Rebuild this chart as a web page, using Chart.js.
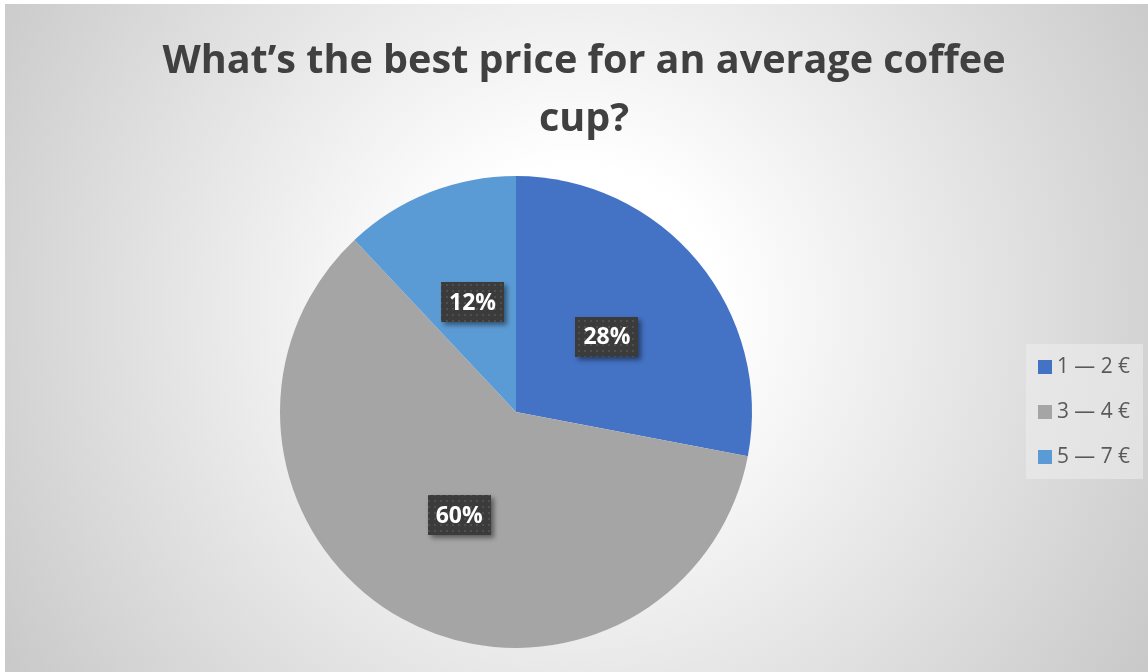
<!DOCTYPE html>
<html>
<head>
<meta charset="utf-8">
<title>Coffee price survey</title>
<script src="https://cdn.jsdelivr.net/npm/chart.js@4/dist/chart.umd.min.js"></script>
<style>
    html, body { margin: 0; padding: 0; background: #ffffff; overflow: hidden; }
    #wrap { position: relative; width: 1148px; height: 672px; }
</style>
</head>
<body>
<div id="wrap"><canvas id="priceChart" width="1148" height="672"></canvas></div>
<script>
// Survey answers
const titleLines = ['What\u2019s the best price for an average coffee', 'cup?'];
const priceRanges = ['1 \u2014 2 \u20ac', '3 \u2014 4 \u20ac', '5 \u2014 7 \u20ac'];
const sharePercent = [28, 60, 12];
const sliceColors = ['#4472C4', '#A5A5A5', '#5B9BD5'];

const FONT = '"Open Sans", "Liberation Sans", sans-serif';

// Pick a font size so that text spans the given width
function fitFont(ctx, weight, text, width) {
    ctx.font = weight + ' 40px ' + FONT;
    const size = 40 * width / ctx.measureText(text).width;
    return weight + ' ' + size.toFixed(2) + 'px ' + FONT;
}

// Light radial backdrop behind the whole chart
const backdrop = {
    id: 'backdrop',
    beforeDraw(chart) {
        const ctx = chart.ctx;
        ctx.save();
        ctx.fillStyle = '#ffffff';
        ctx.fillRect(0, 0, chart.width, chart.height);
        const g = ctx.createRadialGradient(574, 310, 0, 574, 310, 720);
        g.addColorStop(0, '#ffffff');
        g.addColorStop(0.2, '#ffffff');
        g.addColorStop(1, '#c4c4c4');
        ctx.fillStyle = g;
        ctx.fillRect(5, 4, chart.width - 5, chart.height - 4);
        ctx.restore();
    }
};

// Two-line bold heading, sized to the first line's width
const heading = {
    id: 'heading',
    afterDraw(chart) {
        const ctx = chart.ctx;
        ctx.save();
        ctx.font = fitFont(ctx, 'bold', titleLines[0], 843);
        ctx.fillStyle = '#404040';
        ctx.textAlign = 'center';
        ctx.textBaseline = 'alphabetic';
        ctx.fillText(titleLines[0], 584, 73);
        ctx.fillText(titleLines[1], 584, 131);
        ctx.restore();
    }
};

// Dotted dark tile used behind the percentage labels
function makeDotPattern(ctx) {
    const tile = document.createElement('canvas');
    tile.width = 6;
    tile.height = 6;
    const t = tile.getContext('2d');
    t.fillStyle = '#3b3b3b';
    t.fillRect(0, 0, 6, 6);
    t.fillStyle = '#4f4f4f';
    t.fillRect(2, 2, 2, 2);
    return ctx.createPattern(tile, 'repeat');
}

// Percentage callouts at the middle of each slice
const callouts = {
    id: 'callouts',
    afterDatasetsDraw(chart) {
        const ctx = chart.ctx;
        const meta = chart.getDatasetMeta(0);
        const pattern = makeDotPattern(ctx);
        const labelFont = fitFont(ctx, 'bold', '28%', 47);
        meta.data.forEach((arc, i) => {
            const pos = arc.tooltipPosition();
            const w = 63, h = 40;
            const x = Math.round(pos.x - w / 2), y = Math.round(pos.y - h / 2);
            ctx.save();
            ctx.shadowColor = 'rgba(0,0,0,0.45)';
            ctx.shadowBlur = 5;
            ctx.shadowOffsetX = 3;
            ctx.shadowOffsetY = 3;
            ctx.fillStyle = pattern;
            ctx.fillRect(x, y, w, h);
            ctx.restore();
            ctx.save();
            ctx.font = labelFont;
            ctx.fillStyle = '#ffffff';
            ctx.textAlign = 'center';
            ctx.textBaseline = 'middle';
            ctx.fillText(sharePercent[i] + '%', pos.x, pos.y + 1);
            ctx.restore();
        });
    }
};

// Legend panel on the right
const legendBox = {
    id: 'legendBox',
    afterDraw(chart) {
        const ctx = chart.ctx;
        ctx.save();
        ctx.fillStyle = 'rgba(236,236,236,0.6)';
        ctx.fillRect(1026, 344, 117, 135);
        ctx.font = fitFont(ctx, 'normal', priceRanges[0], 73);
        ctx.textBaseline = 'middle';
        ctx.textAlign = 'left';
        priceRanges.forEach((label, i) => {
            const cy = 367 + i * 45;
            ctx.fillStyle = sliceColors[i];
            ctx.fillRect(1038, cy - 7, 14, 14);
            ctx.fillStyle = '#595959';
            ctx.fillText(label, 1057, cy);
        });
        ctx.restore();
    }
};

new Chart(document.getElementById('priceChart').getContext('2d'), {
    type: 'pie',
    data: {
        labels: priceRanges,
        datasets: [{
            data: sharePercent,
            backgroundColor: sliceColors,
            borderWidth: 0
        }]
    },
    options: {
        responsive: false,
        animation: false,
        layout: {
            padding: { top: 176, bottom: 24, left: 280, right: 396 }
        },
        plugins: {
            legend: { display: false },
            title: { display: false },
            tooltip: { enabled: false }
        }
    },
    plugins: [backdrop, heading, callouts, legendBox]
});
</script>
</body>
</html>
